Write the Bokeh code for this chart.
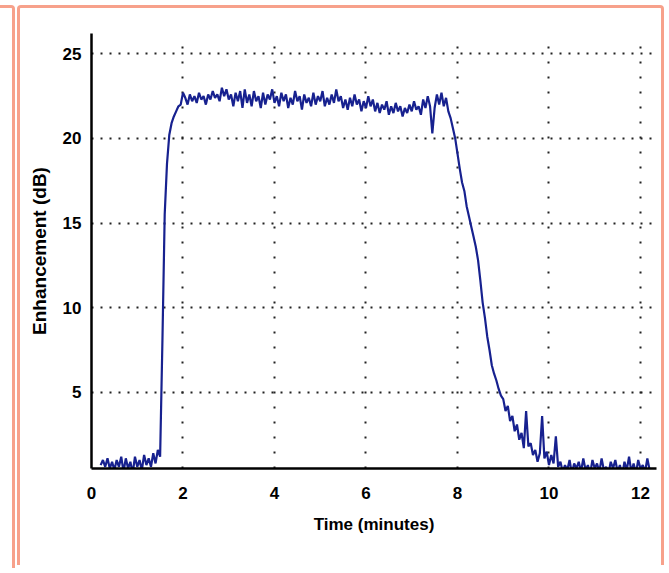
from bokeh.plotting import figure
from bokeh.models import Range1d, FixedTicker, Div, ColumnDataSource
from bokeh.layouts import row
from bokeh.embed import file_html
from bokeh.resources import INLINE

# ---- data ----
TIME = [
    0.20, 0.25, 0.30, 0.35, 0.40, 0.45, 0.50, 0.55, 0.60, 0.65,
    0.70, 0.75, 0.80, 0.85, 0.90, 0.95, 1.00, 1.05, 1.10, 1.15,
    1.20, 1.25, 1.30, 1.35, 1.40, 1.45, 1.50, 1.55, 1.60, 1.65,
    1.70, 1.75, 1.80, 1.85, 1.90, 1.95, 2.00, 2.05, 2.10, 2.15,
    2.20, 2.25, 2.30, 2.35, 2.40, 2.45, 2.50, 2.55, 2.60, 2.65,
    2.70, 2.75, 2.80, 2.85, 2.90, 2.95, 3.00, 3.05, 3.10, 3.15,
    3.20, 3.25, 3.30, 3.35, 3.40, 3.45, 3.50, 3.55, 3.60, 3.65,
    3.70, 3.75, 3.80, 3.85, 3.90, 3.95, 4.00, 4.05, 4.10, 4.15,
    4.20, 4.25, 4.30, 4.35, 4.40, 4.45, 4.50, 4.55, 4.60, 4.65,
    4.70, 4.75, 4.80, 4.85, 4.90, 4.95, 5.00, 5.05, 5.10, 5.15,
    5.20, 5.25, 5.30, 5.35, 5.40, 5.45, 5.50, 5.55, 5.60, 5.65,
    5.70, 5.75, 5.80, 5.85, 5.90, 5.95, 6.00, 6.05, 6.10, 6.15,
    6.20, 6.25, 6.30, 6.35, 6.40, 6.45, 6.50, 6.55, 6.60, 6.65,
    6.70, 6.75, 6.80, 6.85, 6.90, 6.95, 7.00, 7.05, 7.10, 7.15,
    7.20, 7.25, 7.30, 7.35, 7.40, 7.45, 7.50, 7.55, 7.60, 7.65,
    7.70, 7.75, 7.80, 7.85, 7.90, 7.95, 8.00, 8.05, 8.10, 8.15,
    8.20, 8.25, 8.30, 8.35, 8.40, 8.45, 8.50, 8.55, 8.60, 8.65,
    8.70, 8.75, 8.80, 8.85, 8.90, 8.95, 9.00, 9.05, 9.10, 9.15,
    9.20, 9.25, 9.30, 9.35, 9.40, 9.45, 9.50, 9.55, 9.60, 9.65,
    9.70, 9.75, 9.80, 9.85, 9.90, 9.95, 10.00, 10.05, 10.10, 10.15,
    10.20, 10.25, 10.30, 10.35, 10.40, 10.45, 10.50, 10.55, 10.60, 10.65,
    10.70, 10.75, 10.80, 10.85, 10.90, 10.95, 11.00, 11.05, 11.10, 11.15,
    11.20, 11.25, 11.30, 11.35, 11.40, 11.45, 11.50, 11.55, 11.60, 11.65,
    11.70, 11.75, 11.80, 11.85, 11.90, 11.95, 12.00, 12.05, 12.10, 12.15,
    12.20,
]

ENHANCEMENT_DB = [
    0.7, 1.0, 0.6, 1.1, 0.5, 0.9, 0.4, 1.0, 0.6, 1.2,
    0.3, 1.1, 0.5, 0.9, 0.2, 1.2, 0.6, 1.0, 0.4, 1.3,
    0.7, 1.1, 0.6, 1.4, 0.8, 1.6, 1.2, 8.0, 15.5, 18.5,
    20.2, 20.9, 21.3, 21.6, 21.9, 22.0, 22.7, 22.4, 22.0, 22.6,
    22.2, 22.5, 22.1, 22.7, 22.3, 22.5, 22.0, 22.6, 22.3, 22.8,
    22.4, 22.6, 22.2, 23.0, 22.5, 22.9, 22.3, 22.6, 21.9, 22.7,
    22.2, 22.8, 21.8, 22.9, 22.1, 22.6, 21.9, 22.8, 22.2, 22.5,
    21.8, 22.7, 22.0, 22.6, 22.3, 22.9, 22.1, 22.5, 21.9, 22.7,
    22.2, 22.6, 21.8, 22.4, 22.0, 22.8, 22.2, 22.5, 21.7, 22.6,
    22.1, 22.4, 21.9, 22.7, 22.0, 22.5, 22.2, 22.8, 21.9, 22.4,
    22.0, 22.6, 22.1, 22.9, 22.2, 22.5, 21.8, 22.3, 21.7, 22.4,
    21.9, 22.6, 22.0, 22.3, 21.6, 22.2, 21.8, 22.5, 21.9, 22.3,
    21.6, 22.1, 21.5, 22.0, 21.7, 22.2, 21.4, 21.9, 21.5, 22.1,
    21.6, 21.9, 21.3, 21.8, 21.5, 22.0, 21.6, 22.2, 21.7, 21.9,
    21.4, 22.3, 21.8, 22.5, 21.9, 20.3, 21.8, 22.6, 22.0, 22.7,
    21.9, 22.4, 21.6, 21.2, 20.6, 20.0, 19.1, 18.2, 17.4, 16.9,
    16.0, 15.4, 14.8, 14.2, 13.6, 12.8, 11.6, 10.3, 9.4, 8.3,
    7.5, 6.6, 6.1, 5.7, 5.2, 4.8, 4.6, 3.9, 4.2, 3.3,
    3.6, 2.7, 3.1, 2.2, 2.6, 1.7, 3.9, 1.8, 2.0, 1.3,
    1.6, 0.9, 1.4, 3.6, 1.1, 1.5, 0.7, 1.3, 0.8, 2.4,
    0.6, 0.9, 0.3, 0.7, 0.4, 1.0, 0.2, 0.8, 0.5, 0.9,
    0.3, 1.1, 0.4, 0.7, 0.2, 1.0, 0.5, 0.8, 0.3, 1.1,
    0.4, 0.6, 0.2, 0.9, 0.5, 1.0, 0.3, 0.7, 0.1, 0.9,
    0.4, 1.2, 0.3, 0.8, 0.2, 1.0, 0.5, 0.7, 0.3, 1.1,
    0.4,
]

X_TICKS = [0, 2, 4, 6, 8, 10, 12]
Y_TICKS = [5, 10, 15, 20, 25]
X_LABEL = "Time (minutes)"
Y_LABEL = "Enhancement (dB)"

BORDER = "#f7a18b"
FONT = "Liberation Sans"

source = ColumnDataSource(data=dict(t=TIME, e=ENHANCEMENT_DB))

p = figure(
    width=641, height=557,
    x_range=Range1d(0, 12.35), y_range=Range1d(0.5, 26.2),
    output_backend="svg", toolbar_location=None,
    min_border_left=71, min_border_right=11,
    min_border_top=25, min_border_bottom=100,
)
p.outline_line_color = None
p.background_fill_color = "white"
p.border_fill_color = "white"

p.line("t", "e", source=source, line_color="#17218f", line_width=2.2)

for ax, ticks in ((p.xaxis[0], X_TICKS), (p.yaxis[0], Y_TICKS)):
    ax.ticker = FixedTicker(ticks=ticks)
    ax.axis_line_color = "black"
    ax.axis_line_width = 2.5
    ax.major_tick_line_color = None
    ax.minor_tick_line_color = None
    ax.major_label_text_font = FONT
    ax.major_label_text_font_style = "bold"
    ax.major_label_text_font_size = "17px"
    ax.major_label_text_color = "black"
    ax.axis_label_text_font = FONT
    ax.axis_label_text_font_style = "bold"
    ax.axis_label_text_color = "black"

p.xaxis.axis_label = X_LABEL
p.xaxis.axis_label_text_font_size = "17px"
p.xaxis.major_label_standoff = 12
p.xaxis.axis_label_standoff = 13

p.yaxis.axis_label = Y_LABEL
p.yaxis.axis_label_text_font_size = "19px"
p.yaxis.major_label_standoff = 4
p.yaxis.axis_label_standoff = 10

p.xgrid.ticker = FixedTicker(ticks=X_TICKS)
p.ygrid.ticker = FixedTicker(ticks=Y_TICKS)
p.xgrid.grid_line_color = "#222222"
p.xgrid.grid_line_width = 2
p.xgrid.grid_line_dash = "2 13"
p.ygrid.grid_line_color = "#222222"
p.ygrid.grid_line_width = 2
p.ygrid.grid_line_dash = "2 7"

p.styles = {
    "box-sizing": "content-box",
    "border-top": f"3px solid {BORDER}",
    "border-left": f"3px solid {BORDER}",
    "border-right": f"3px solid {BORDER}",
    "border-radius": "4px 4px 0 0",
}
p.margin = (5, 0, 0, 2)

left_box = Div(text="", width=12, height=560, margin=(5, 0, 0, 0),
               styles={
                   "box-sizing": "content-box",
                   "border-top": f"3px solid {BORDER}",
                   "border-right": f"3px solid {BORDER}",
                   "border-radius": "0 4px 0 0",
               })

layout = row(left_box, p, spacing=0)

with open("out.html", "w") as f:
    f.write(file_html(layout, INLINE))
